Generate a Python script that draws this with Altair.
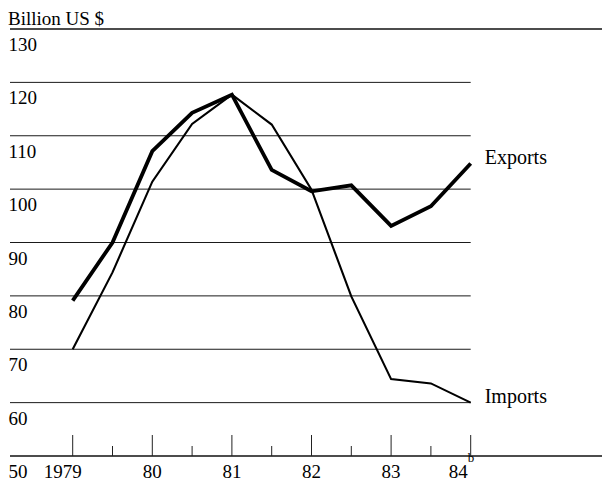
import altair as alt
import pandas as pd

# ---- data ----
years = [1979, 1979.5, 1980, 1980.5, 1981, 1981.5, 1982, 1982.5, 1983, 1983.5, 1984]
exports = [79.1, 90.0, 107.1, 114.3, 117.7, 103.6, 99.6, 100.7, 93.1, 96.8, 104.8]
imports = [70.0, 84.4, 101.4, 112.2, 117.7, 112.1, 99.9, 79.9, 64.4, 63.6, 60.0]

y_ticks = [130, 120, 110, 100, 90, 80, 70, 60, 50]
inner_grid = [120, 110, 100, 90, 80, 70, 60]
frame_lines = [130, 50]
major_ticks = [1979, 1980, 1981, 1982, 1983, 1984]
minor_ticks = [1979.5, 1980.5, 1981.5, 1982.5, 1983.5]
mid_labels = ["80", "81", "82", "83"]
mid_label_years = [1980, 1981, 1982, 1983]
title_text = "Billion US $"

# ---- layout ----
W, H = 592, 427
PX_PER_YEAR = 79.6
XMIN = 1979 - 62.7 / PX_PER_YEAR
XMAX = XMIN + W / PX_PER_YEAR
FONT = "Liberation Serif"
NUM_SIZE = 19
BOTTOM_BASE = H + 22

xs = alt.Scale(domain=[XMIN, XMAX], nice=False, zero=False)
ys = alt.Scale(domain=[50, 130], nice=False, zero=False)

df = pd.DataFrame({"year": years, "Exports": exports, "Imports": imports})

grid = alt.Chart(pd.DataFrame({"v": inner_grid})).mark_rule(color="#1a1a1a", strokeWidth=1).encode(
    x=alt.datum(XMIN, scale=xs, axis=None),
    x2=alt.datum(1984),
    y=alt.Y("v:Q", scale=ys, axis=None),
)
frame = alt.Chart(pd.DataFrame({"v": frame_lines})).mark_rule(color="#111", strokeWidth=1.4).encode(
    x=alt.datum(XMIN, scale=xs, axis=None),
    x2=alt.datum(XMAX),
    y=alt.Y("v:Q", scale=ys, axis=None),
)
maj = alt.Chart(pd.DataFrame({"t": major_ticks})).mark_rule(color="#222", strokeWidth=1).encode(
    x=alt.X("t:Q", scale=xs, axis=None),
    y=alt.value(H),
    y2=alt.value(H - 21),
)
mino = alt.Chart(pd.DataFrame({"t": minor_ticks})).mark_rule(color="#222", strokeWidth=1).encode(
    x=alt.X("t:Q", scale=xs, axis=None),
    y=alt.value(H),
    y2=alt.value(H - 10),
)

exp_line = alt.Chart(df).mark_line(color="black", strokeWidth=3.8, strokeJoin="miter").encode(
    x=alt.X("year:Q", scale=xs, axis=None),
    y=alt.Y("Exports:Q", scale=ys, axis=None),
)
imp_line = alt.Chart(df).mark_line(color="black", strokeWidth=2.1, strokeJoin="miter").encode(
    x=alt.X("year:Q", scale=xs, axis=None),
    y=alt.Y("Imports:Q", scale=ys, axis=None),
)

upper = [v for v in y_ticks if v > 50]
ylab = alt.Chart(pd.DataFrame({"v": upper, "s": [str(v) for v in upper]})).mark_text(
    font=FONT, fontSize=NUM_SIZE, align="left", baseline="alphabetic", dy=22, color="black"
).encode(
    x=alt.value(-1.5),
    y=alt.Y("v:Q", scale=ys, axis=None),
    text="s:N",
)
ylab50 = alt.Chart(pd.DataFrame({"s": [str(y_ticks[-1])]})).mark_text(
    font=FONT, fontSize=NUM_SIZE, align="left", baseline="alphabetic", color="black"
).encode(
    x=alt.value(-1.5),
    y=alt.value(BOTTOM_BASE),
    text="s:N",
)

xlab = alt.Chart(pd.DataFrame({"t": mid_label_years, "s": mid_labels})).mark_text(
    font=FONT, fontSize=NUM_SIZE, align="center", baseline="alphabetic", color="black"
).encode(
    x=alt.X("t:Q", scale=xs, axis=None),
    y=alt.value(BOTTOM_BASE),
    text="s:N",
)
xlab79 = alt.Chart(pd.DataFrame({"t": [1979], "s": ["1979"]})).mark_text(
    font=FONT, fontSize=NUM_SIZE, align="center", baseline="alphabetic", dx=-10, color="black"
).encode(
    x=alt.X("t:Q", scale=xs, axis=None),
    y=alt.value(BOTTOM_BASE),
    text="s:N",
)
xlab84 = alt.Chart(pd.DataFrame({"t": [1984], "s": ["84"]})).mark_text(
    font=FONT, fontSize=NUM_SIZE, align="right", baseline="alphabetic", dx=-3, color="black"
).encode(
    x=alt.X("t:Q", scale=xs, axis=None),
    y=alt.value(BOTTOM_BASE),
    text="s:N",
)
xlab84b = alt.Chart(pd.DataFrame({"t": [1984], "s": ["b"]})).mark_text(
    font=FONT, fontSize=13, align="left", baseline="alphabetic", dx=-3, color="black"
).encode(
    x=alt.X("t:Q", scale=xs, axis=None),
    y=alt.value(BOTTOM_BASE - 16),
    text="s:N",
)

end = pd.DataFrame({"year": [1984, 1984], "v": [exports[-1], imports[-1]],
                    "s": ["Exports", "Imports"]})
series_lab = alt.Chart(end).mark_text(
    font=FONT, fontSize=20, align="left", baseline="alphabetic", dx=14, color="black"
).encode(
    x=alt.X("year:Q", scale=xs, axis=None),
    y=alt.Y("v:Q", scale=ys, axis=None),
    text="s:N",
)

title = alt.Chart(pd.DataFrame({"s": [title_text]})).mark_text(
    font=FONT, fontSize=19, align="left", baseline="alphabetic", color="black"
).encode(
    x=alt.value(-2),
    y=alt.value(-4),
    text="s:N",
)

chart = alt.layer(
    grid, frame, maj, mino, imp_line, exp_line, ylab, ylab50, xlab, xlab79, xlab84, xlab84b,
    series_lab, title
).properties(
    width=W,
    height=H,
    autosize=alt.AutoSizeParams(type="none"),
    padding={"left": 2, "top": 21, "right": 0, "bottom": 28},
    background="white",
).configure_view(stroke=None)

chart.save("out.html", embed_options={"renderer": "svg", "actions": False})
